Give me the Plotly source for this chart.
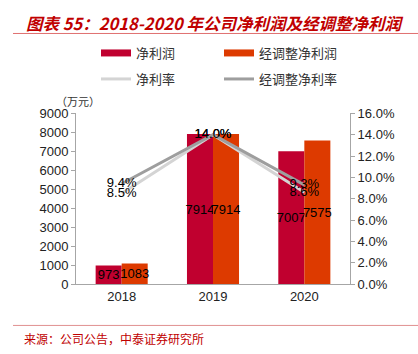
import plotly.graph_objects as go

years = ["2018", "2019", "2020"]
net_profit = [973, 7914, 7007]
adj_net_profit = [1083, 7914, 7575]
net_margin = [0.085, 0.140, 0.086]
adj_net_margin = [0.094, 0.140, 0.093]

RED = "#C0002F"
ORANGE = "#DD3A00"
LIGHT = "#D4D4D4"
DARK = "#9E9E9E"
NUMFONT = "Liberation Sans, Arial, sans-serif"
CJK = "Noto Sans CJK SC"

fig = go.Figure()
fig.add_bar(x=years, y=net_profit, name="净利润", marker_color=RED,
            marker_line_width=0, text=[str(v) for v in net_profit],
            textposition="inside", insidetextanchor="middle", textangle=0,
            constraintext="none", textfont=dict(color="black", size=13, family=NUMFONT),
            showlegend=False)
fig.add_bar(x=years, y=adj_net_profit, name="经调整净利润", marker_color=ORANGE,
            marker_line_width=0, text=[str(v) for v in adj_net_profit],
            textposition="inside", insidetextanchor="middle", textangle=0,
            constraintext="none", textfont=dict(color="black", size=13, family=NUMFONT),
            showlegend=False)
fig.add_scatter(x=years, y=net_margin, name="净利率", yaxis="y2", mode="lines+text",
                line=dict(color=LIGHT, width=3), text=[f"{v*100:.1f}%" for v in net_margin],
                textposition="middle center", textfont=dict(color="black", size=13, family=NUMFONT),
                showlegend=False)
fig.add_scatter(x=years, y=adj_net_margin, name="经调整净利率", yaxis="y2", mode="lines+text",
                line=dict(color=DARK, width=3), text=[f"{v*100:.1f}%" for v in adj_net_margin],
                textposition="middle center", textfont=dict(color="black", size=13, family=NUMFONT),
                showlegend=False)

# legend entries (bars shown as thick strokes like the reference)
for name, col, lg in [("净利润", RED, "legend"), ("经调整净利润", ORANGE, "legend"),
                      ("净利率", LIGHT, "legend2"), ("经调整净利率", DARK, "legend2")]:
    fig.add_scatter(x=[None], y=[None], mode="lines", name=name,
                    line=dict(color=col, width=7 if lg == "legend" else 3),
                    legend=lg, showlegend=True)

axis_common = dict(showline=True, linecolor="#A6A6A6", linewidth=1, ticks="outside",
                   ticklen=4, tickcolor="#A6A6A6", showgrid=False, zeroline=False,
                   tickfont=dict(size=13, color="#222", family=NUMFONT))

legend_common = dict(orientation="h", xref="container", yref="container",
                     yanchor="middle", xanchor="left", bgcolor="rgba(0,0,0,0)",
                     font=dict(family=CJK, size=13, color="#333"),
                     entrywidth=78, entrywidthmode="pixels", itemwidth=30,
                     tracegroupgap=0)

fig.update_layout(
    width=418, height=354,
    margin=dict(l=76, r=68, t=107, b=70),
    paper_bgcolor="white", plot_bgcolor="white",
    barmode="group", bargap=0.43, bargroupgap=0,
    font=dict(family=NUMFONT, size=13, color="#222"),
    xaxis=dict(type="category", showline=True, linecolor="#A6A6A6", ticks="",
               showgrid=False, tickfont=dict(size=13, color="#222", family=NUMFONT)),
    yaxis=dict(range=[0, 9000], dtick=1000, **axis_common),
    yaxis2=dict(range=[0, 0.16], dtick=0.02, tickformat=".1%", overlaying="y",
                side="right", **axis_common),
    legend=dict(x=96/418, y=1-53/354, **legend_common),
    legend2=dict(x=96/418, y=1-79/354, **legend_common),
    showlegend=True,
    annotations=[
        dict(text="<b><i>图表 55：2018-2020 年公司净利润及经调整净利润</i></b>",
             xref="paper", yref="paper", x=(24-76)/274, y=(284-13)/177,
             showarrow=False, xanchor="left", yanchor="middle",
             font=dict(family=CJK, size=16.5, color="#C00000")),
        dict(text="（万元）", xref="paper", yref="paper", x=(54-76)/274, y=1+(107-94)/177,
             showarrow=False, xanchor="left", yanchor="middle",
             font=dict(family=CJK, size=11, color="#333")),
        dict(text="来源：公司公告，中泰证券研究所", xref="paper", yref="paper",
             x=(22-76)/274, y=-(341-284)/177, showarrow=False, xanchor="left",
             yanchor="middle", font=dict(family=CJK, size=12, color="#C00000")),
    ],
    shapes=[
        dict(type="line", xref="paper", yref="paper", x0=(13-76)/274, x1=(418-76)/274,
             y0=(284-24)/177, y1=(284-24)/177, line=dict(color="#E07070", width=1)),
        dict(type="line", xref="paper", yref="paper", x0=(13-76)/274, x1=(418-76)/274,
             y0=-(327-284)/177, y1=-(327-284)/177, line=dict(color="#E09090", width=1)),
    ],
)

fig.write_html("out.html")
